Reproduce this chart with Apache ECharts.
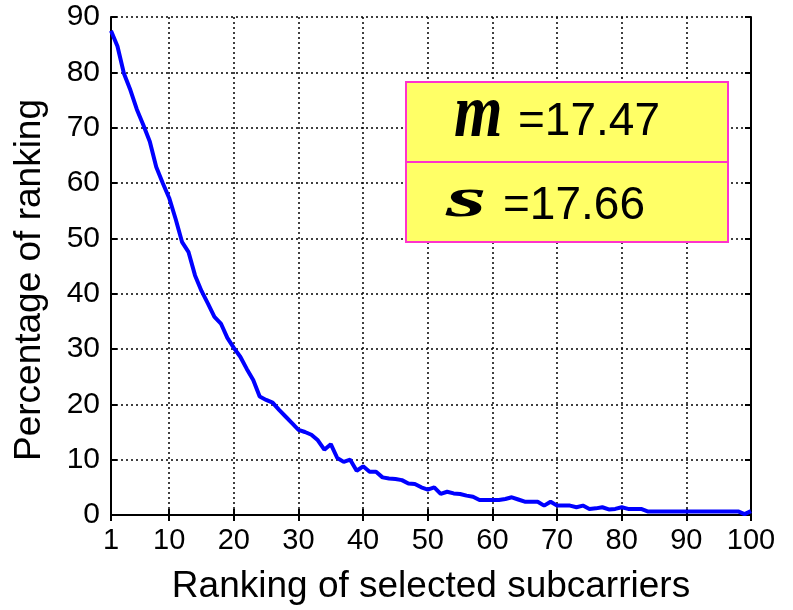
<!DOCTYPE html>
<html>
<head>
<meta charset="utf-8">
<script src="https://cdn.jsdelivr.net/npm/echarts@6/dist/echarts.min.js"></script>
<style>html,body{margin:0;padding:0;background:#fff}#c{width:793px;height:610px}</style>
</head>
<body>
<div id="c"></div>
<script>
const ranks = [1,2,3,4,5,6,7,8,9,10,11,12,13,14,15,16,17,18,19,20,21,22,23,24,25,26,27,28,29,30,31,32,33,34,35,36,37,38,39,40,41,42,43,44,45,46,47,48,49,50,51,52,53,54,55,56,57,58,59,60,61,62,63,64,65,66,67,68,69,70,71,72,73,74,75,76,77,78,79,80,81,82,83,84,85,86,87,88,89,90,91,92,93,94,95,96,97,98,99,100];
const percentage = [87.5,84.7,79.8,76.8,73.3,70.5,67.5,62.9,60.0,57.3,
  53.5,49.3,47.5,43.3,40.5,38.2,35.8,34.6,32.0,30.2,
  28.6,26.4,24.4,21.4,20.8,20.3,19.0,17.8,16.6,15.4,
  15.0,14.5,13.5,11.8,12.8,10.3,9.6,10.0,8.0,8.8,
  7.8,7.8,6.8,6.6,6.5,6.3,5.7,5.6,5.0,4.6,
  5.0,3.8,4.2,3.9,3.8,3.5,3.3,2.7,2.7,2.7,
  2.7,2.9,3.2,2.8,2.4,2.4,2.4,1.7,2.4,1.7,
  1.7,1.7,1.4,1.7,1.1,1.2,1.4,1.0,1.1,1.4,
  1.1,1.1,1.1,0.65,0.65,0.65,0.65,0.65,0.65,0.65,
  0.65,0.65,0.65,0.65,0.65,0.65,0.65,0.65,0.15,0.7];
const xTickLabels = [1,10,20,30,40,50,60,70,80,90,100];
const statLines = [
  {sym: 'm', text: '=17.47'},
  {sym: 's', text: '=17.66'}
];
const xTitle = 'Ranking of selected subcarriers';
const yTitle = 'Percentage of ranking';

const FONT = '"Liberation Sans", Arial, sans-serif';
const SERIF = '"Liberation Serif", "Times New Roman", serif';
const isTick = (idx, val) => xTickLabels.indexOf(Number(val)) >= 0;

const chart = echarts.init(document.getElementById('c'));
const axisLine = {show: true, lineStyle: {color: '#000', width: 2}};
chart.setOption({
  animation: false,
  grid: {left: 111, right: 42, top: 17, bottom: 89, containLabel: false},
  xAxis: [{
    type: 'category', data: ranks, boundaryGap: false, position: 'bottom',
    name: xTitle, nameLocation: 'middle', nameGap: 53,
    nameTextStyle: {fontFamily: FONT, fontSize: 37, color: '#000'},
    axisLine: axisLine,
    axisTick: {show: true, inside: true, length: 6, interval: isTick, lineStyle: {color: '#000', width: 2}},
    axisLabel: {interval: isTick, fontFamily: FONT, fontSize: 29, color: '#000', margin: 11},
    splitLine: {show: true, interval: isTick, lineStyle: {color: '#000', type: [2, 3], width: 1.5}}
  }, {
    type: 'category', data: ranks, boundaryGap: false, position: 'top',
    axisLine: axisLine,
    axisTick: {show: true, inside: true, length: 6, interval: isTick, lineStyle: {color: '#000', width: 2}},
    axisLabel: {show: false}, splitLine: {show: false}
  }],
  yAxis: [{
    type: 'value', min: 0, max: 90, interval: 10, position: 'left',
    axisLine: axisLine,
    axisTick: {show: true, inside: true, length: 6, lineStyle: {color: '#000', width: 2}},
    axisLabel: {fontFamily: FONT, fontSize: 30, color: '#000', margin: 11},
    splitLine: {show: true, lineStyle: {color: '#000', type: [2, 3], width: 1.5}}
  }, {
    type: 'value', min: 0, max: 90, interval: 10, position: 'right',
    axisLine: axisLine,
    axisTick: {show: true, inside: true, length: 6, lineStyle: {color: '#000', width: 2}},
    axisLabel: {show: false}, splitLine: {show: false}
  }],
  series: [{
    type: 'line', xAxisIndex: 0, yAxisIndex: 0, data: percentage,
    showSymbol: false, symbol: 'none',
    lineStyle: {color: '#0000ff', width: 4}, z: 5
  }],
  graphic: [
    {type: 'text', x: 30, y: 280, rotation: Math.PI / 2, z: 11,
     style: {text: yTitle, font: '37px ' + FONT, fill: '#000', align: 'center', verticalAlign: 'middle'}},
    {type: 'rect', shape: {x: 406, y: 82, width: 322, height: 80},
     style: {fill: '#ffff66', stroke: '#ff33cc', lineWidth: 2}, z: 10},
    {type: 'rect', shape: {x: 406, y: 162, width: 322, height: 80},
     style: {fill: '#ffff66', stroke: '#ff33cc', lineWidth: 2}, z: 10},
    {type: 'text', x: 454, y: 116, scaleX: 0.82, z: 11,
     style: {text: statLines[0].sym, font: 'bold italic 76px ' + SERIF, fill: '#000', verticalAlign: 'middle'}},
    {type: 'text', x: 518, y: 122, z: 11,
     style: {text: statLines[0].text, font: '46px ' + FONT, fill: '#000', verticalAlign: 'middle'}},
    {type: 'text', x: 446, y: 201, scaleX: 1.8, z: 11,
     style: {text: statLines[1].sym, font: 'bold italic 58px ' + SERIF, fill: '#000', verticalAlign: 'middle'}},
    {type: 'text', x: 503, y: 206, z: 11,
     style: {text: statLines[1].text, font: '46px ' + FONT, fill: '#000', verticalAlign: 'middle'}}
  ]
});
</script>
</body>
</html>
